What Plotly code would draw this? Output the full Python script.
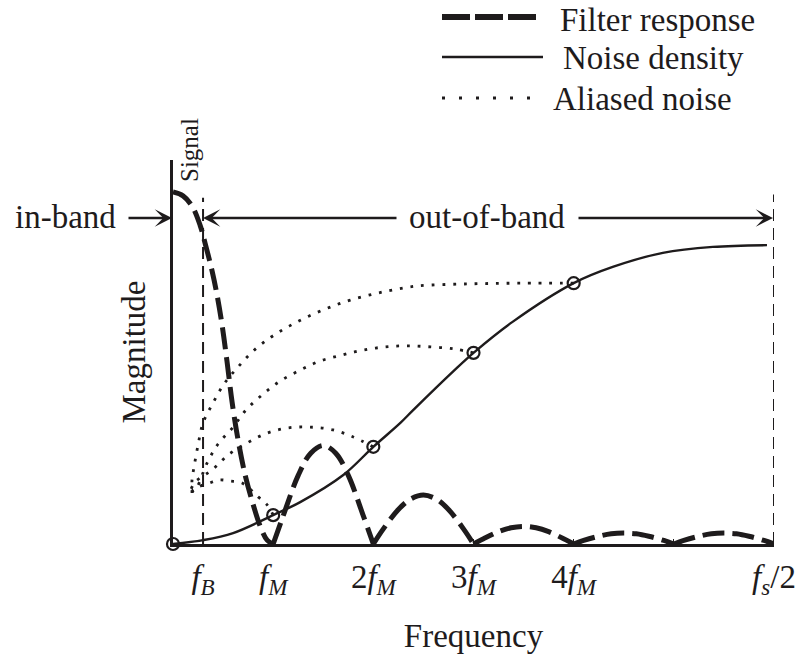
import plotly.graph_objects as go

# ---------------- data (x in units of f_M, y = normalised magnitude) ----------------
f_B = 0.3
x_end = 6.0

# filter response: main lobe + side lobes (zeros at multiples of f_M)
filter_x = [0, 0.10, 0.19, 0.27, 0.32, 0.39, 0.44, 0.49, 0.54, 0.59, 0.65, 0.72, 0.79, 0.87, 0.94, 1.0,
            1.1, 1.25, 1.375, 1.5, 1.625, 1.75, 1.9, 2.0,
            2.1, 2.25, 2.375, 2.5, 2.625, 2.75, 2.9, 3.0,
            3.1, 3.25, 3.375, 3.5, 3.625, 3.75, 3.9, 4.0,
            4.1, 4.25, 4.375, 4.5, 4.625, 4.75, 4.9, 5.0,
            5.1, 5.25, 5.375, 5.5, 5.625, 5.75, 5.9, 6.0]
filter_y = [1.000, 0.989, 0.960, 0.906, 0.855, 0.776, 0.707, 0.622, 0.517, 0.403, 0.295, 0.196, 0.122, 0.051, 0.011, 0.0,
            0.080, 0.195, 0.258, 0.280, 0.258, 0.195, 0.080, 0.0,
            0.043, 0.098, 0.128, 0.139, 0.128, 0.098, 0.043, 0.0,
            0.015, 0.035, 0.046, 0.050, 0.046, 0.035, 0.015, 0.0,
            0.010, 0.022, 0.029, 0.031, 0.029, 0.022, 0.010, 0.0,
            0.010, 0.022, 0.029, 0.031, 0.029, 0.022, 0.010, 0.0]

noise_x = [0, 0.30, 0.60, 1.0, 1.27, 1.70, 2.0, 2.27, 2.40, 2.80, 3.0, 3.39, 4.0, 4.39, 4.89, 5.39, 5.93]
noise_y = [0, 0.011, 0.031, 0.082, 0.119, 0.196, 0.276, 0.344, 0.381, 0.491, 0.543, 0.631, 0.741, 0.787, 0.827, 0.844, 0.849]

circle_x = [0, 1, 2, 3, 4]
circle_y = [0, 0.082, 0.276, 0.543, 0.741]

alias4_x = [4.0, 3.47, 2.96, 2.44, 2.20, 2.00, 1.77, 1.57, 1.36, 1.16, 0.98, 0.80, 0.65, 0.51, 0.40, 0.30, 0.25, 0.21, 0.19, 0.19]
alias4_y = [0.741, 0.741, 0.739, 0.733, 0.722, 0.710, 0.693, 0.673, 0.648, 0.619, 0.588, 0.548, 0.503, 0.455, 0.401, 0.344, 0.281, 0.219, 0.182, 0.145]
alias3_x = [3.0, 2.81, 2.57, 2.34, 2.12, 1.90, 1.69, 1.47, 1.27, 1.07, 0.90, 0.73, 0.60, 0.45, 0.34, 0.24, 0.19]
alias3_y = [0.543, 0.554, 0.560, 0.563, 0.560, 0.551, 0.537, 0.520, 0.494, 0.463, 0.426, 0.381, 0.332, 0.284, 0.230, 0.162, 0.148]
alias2_x = [2.0, 1.80, 1.60, 1.37, 1.15, 0.94, 0.74, 0.55, 0.39, 0.30, 0.22, 0.18]
alias2_y = [0.276, 0.304, 0.324, 0.332, 0.330, 0.315, 0.287, 0.253, 0.210, 0.193, 0.176, 0.156]
alias1_x = [1.0, 0.94, 0.85, 0.69, 0.57, 0.46, 0.36, 0.25, 0.19]
alias1_y = [0.082, 0.111, 0.134, 0.173, 0.179, 0.182, 0.173, 0.162, 0.153]

tick_vals = [f_B, 1, 2, 3, 4, 5, 6]
tick_text = ["<i>f</i><sub><i>B</i></sub>", "<i>f</i><sub><i>M</i></sub>", "2<i>f</i><sub><i>M</i></sub>",
             "3<i>f</i><sub><i>M</i></sub>", "4<i>f</i><sub><i>M</i></sub>", " ", "<i>f</i><sub><i>s</i></sub>/2"]

legend_names = ["Filter response", "Noise density", "Aliased noise"]

# ---------------- layout geometry ----------------
W, H = 802, 657
L, R, T, B = 173, 28, 160, 113
PW, PH = W - L - R, H - T - B
Y_MAX = PH / 352.0
FONT = "Liberation Serif, DejaVu Serif, serif"
INK = "#1e1b1c"


def PX(px):
    return (px - L) / PW


def PY(py):
    return (H - B - py) / PH


fig = go.Figure()

# filter response, one spline per lobe so that zeros stay sharp
zero_idx = [i for i, v in enumerate(filter_y) if v == 0.0]
start = 0
for z in zero_idx:
    fig.add_trace(go.Scatter(x=filter_x[start:z + 1], y=filter_y[start:z + 1], mode="lines",
                             line=dict(color=INK, width=5, dash="22px,8px", shape="spline"),
                             showlegend=False, hoverinfo="skip"))
    start = z

fig.add_trace(go.Scatter(x=noise_x, y=noise_y, mode="lines",
                         line=dict(color=INK, width=2.4, shape="spline"),
                         showlegend=False, hoverinfo="skip"))

for ax_, ay_ in [(alias4_x, alias4_y), (alias3_x, alias3_y), (alias2_x, alias2_y), (alias1_x, alias1_y)]:
    fig.add_trace(go.Scatter(x=ax_, y=ay_, mode="lines",
                             line=dict(color=INK, width=2.8, dash="2.8px,7.9px", shape="spline"),
                             showlegend=False, hoverinfo="skip"))

fig.add_trace(go.Scatter(x=circle_x, y=circle_y, mode="markers", cliponaxis=False,
                         marker=dict(symbol="circle-open", size=12, color=INK, line=dict(width=2.2, color=INK)),
                         showlegend=False, hoverinfo="skip"))

# vertical dashed markers at f_B and f_s/2
shapes = [
    dict(type="line", xref="x", yref="y", x0=f_B, x1=f_B, y0=0, y1=0.984,
         line=dict(color=INK, width=2, dash="12px,7px")),
    dict(type="line", xref="x", yref="y", x0=x_end, x1=x_end, y0=0, y1=0.993,
         line=dict(color=INK, width=2, dash="12px,7px")),
]

# hand-drawn legend (long samples like the reference)
leg_rows = [(17, dict(color=INK, width=6, dash="28px,5px"), 537),
            (57, dict(color=INK, width=2.4), 543),
            (98, dict(color=INK, width=3, dash="3px,14px"), 530)]
for (py, ln, xend) in leg_rows:
    shapes.append(dict(type="line", xref="paper", yref="paper", x0=PX(442), x1=PX(xend),
                       y0=PY(py), y1=PY(py), line=ln))

annotations = []
for name, (px, py) in zip(legend_names, [(558, 20), (561, 58), (551, 99)]):
    annotations.append(dict(xref="paper", yref="paper", x=PX(px), y=PY(py), text=name, showarrow=False,
                            xanchor="left", yanchor="middle", font=dict(family=FONT, size=33, color=INK)))

annotations += [
    dict(xref="paper", yref="paper", x=PX(65), y=PY(217), text="in-band", showarrow=False,
         xanchor="center", yanchor="middle", font=dict(family=FONT, size=33, color=INK)),
    dict(xref="paper", yref="paper", x=PX(487), y=PY(217), text="out-of-band", showarrow=False,
         xanchor="center", yanchor="middle", font=dict(family=FONT, size=33, color=INK)),
    dict(xref="paper", yref="paper", x=PX(190), y=PY(150), text="Signal", showarrow=False, textangle=-90,
         xanchor="center", yanchor="middle", font=dict(family=FONT, size=25, color=INK)),
]
arrow_style = dict(showarrow=True, arrowhead=3, arrowsize=1.2, arrowwidth=2.4, arrowcolor=INK,
                   standoff=0, startstandoff=0, text="", axref="pixel", ayref="pixel")
for head, tail in [(172, 127), (203, 398), (773, 577)]:
    annotations.append(dict(xref="paper", yref="paper", x=PX(head), y=PY(218), ax=tail - head, ay=0, **arrow_style))

fig.update_layout(
    width=W, height=H, autosize=False,
    margin=dict(l=L, r=R, t=T, b=B, pad=0),
    paper_bgcolor="white", plot_bgcolor="white",
    showlegend=False,
    font=dict(family=FONT, color=INK, size=33),
    shapes=shapes, annotations=annotations,
    xaxis=dict(range=[0, x_end], showgrid=False, zeroline=False, showline=True, linewidth=2.5, linecolor=INK,
               ticks="inside", ticklen=5, tickwidth=1.2, tickcolor=INK,
               tickvals=tick_vals, ticktext=tick_text, tickfont=dict(family=FONT, size=33, color=INK),
               ticklabelstandoff=2, automargin=False,
               title=dict(text="Frequency", font=dict(family=FONT, size=33, color=INK), standoff=25)),
    yaxis=dict(range=[0, Y_MAX], showgrid=False, zeroline=False, showline=True, linewidth=2.5, linecolor=INK,
               ticks="", showticklabels=False, automargin=False,
               title=dict(text="Magnitude", font=dict(family=FONT, size=33, color=INK), standoff=15)),
)

fig.write_html("out.html")
